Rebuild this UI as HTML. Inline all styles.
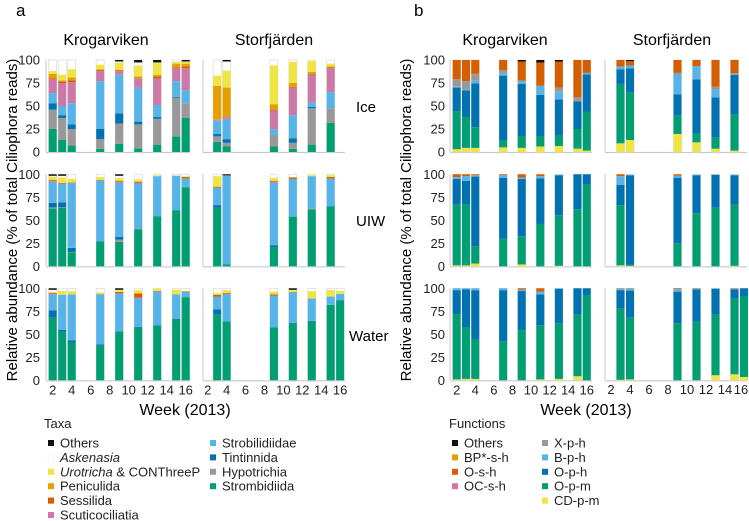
<!DOCTYPE html>
<html><head><meta charset="utf-8"><style>
html,body{margin:0;padding:0;background:#fff;}
svg{display:block;font-family:"Liberation Sans",Arial,sans-serif;}
</style></head><body>
<svg id="chart" width="749" height="521" viewBox="0 0 749 521" xmlns="http://www.w3.org/2000/svg">
<g id="static">
<text x="16" y="16" font-size="17">a</text>
<text x="414" y="16" font-size="17">b</text>
<text x="106" y="45" font-size="16" text-anchor="middle">Krogarviken</text>
<text x="274" y="45" font-size="16" text-anchor="middle">Storfjärden</text>
<text x="505" y="45" font-size="16" text-anchor="middle">Krogarviken</text>
<text x="672" y="45" font-size="16" text-anchor="middle">Storfjärden</text>
<text x="356" y="112" font-size="15">Ice</text>
<text x="356" y="226" font-size="15">UIW</text>
<text x="349" y="341" font-size="15">Water</text>
<text transform="translate(17,220) rotate(-90)" font-size="15" text-anchor="middle">Relative abundance (% of total Ciliophora reads)</text>
<text transform="translate(411,220) rotate(-90)" font-size="15" text-anchor="middle">Relative abundance (% of total Ciliophora reads)</text>
<text x="185" y="415" font-size="16" text-anchor="middle">Week (2013)</text>
<text x="586" y="415" font-size="16" text-anchor="middle">Week (2013)</text>
</g>
<g font-size="13" fill="#222" text-anchor="middle">
<text x="611" y="394">2</text>
<text x="630" y="394">4</text>
<text x="649" y="394">6</text>
<text x="668" y="394">8</text>
<text x="687" y="394">10</text>
<text x="706" y="394">12</text>
<text x="725" y="394">14</text>
<text x="741" y="394">16</text>
</g>
<g id="plots"></g>
<g id="xticks"></g>
<g id="legends"></g>
</svg>
<script>
const taxaNames = ["Strombidiida","Hypotrichia","Tintinnida","Strobilidiidae","Scuticociliatia","Sessilida","Peniculida","Urotricha & CONThreeP"];
const taxaColors = ["#009e73","#999999","#0072b2","#56b4e9","#cc79a7","#d55e00","#e69f00","#f0e442"];
const iceK = [[2,25,46,53,64,79,80,85,88,99,0],[3,13,37,40,50,75,76.5,78,84,99,0],[4,7,25,30,53,76,78,81,90,99,0],[7,3.5,14,25,77,88,89,90,95,99,0],[9,9,31,42,84,88,89,89,97,99,1],[11,4,30,33,70,80,80,82,94,98,2],[13,8,36,38,51,80,82,84,97,98,2],[15,17,59,60,77,91,92,96,98,99,0],[16,37,53,53,67,91,93,96,98,99,1]];
const iceS = [[3,11,17,19.5,34,35,35,72,83,99,0],[4,6,10,14,36,38,38,70,88.5,99,1],[9,6,18.5,18.5,24.6,45,46,52,94,99,0],[11,3.5,10,15,40,70,71,75,98,99,0],[13,8,47.5,49,54,84,85,87,99,100,0],[15,31.5,47.5,47.5,65,91,92,93,96,99,0]];
const uiwK = [[2,63,64,69,92,93,94,94,97.5,99,1],[3,63.5,64,69.5,89.5,90,90.5,90.5,96.5,99,1],[4,15,15.6,20,90.5,90.5,91,91,95,99,0],[7,27,27,27,93.5,93.5,94,94,97,99,0],[9,26.5,29,32,91,92,93,93,96,99,1],[11,40,41,41,90,91,92,92,94.5,99,0],[13,54.5,54.5,54.5,98,98,98,98,99,100,0],[15,61,61,61,98.5,98.5,98.5,98.5,98.5,100,0],[16,86,86,86,95.5,95.5,97,97,98,99,0]];
const uiwS = [[3,63.5,63.5,66.5,85.5,85.5,86.5,86.5,98,99,0],[4,2,2,2,98.5,98.5,99,99.5,99.5,99.5,0.5],[9,21,21,23,91,92,93,93,96,99,0],[11,54,54,54,95,95,96.5,96.5,97,99,0],[13,62,63,63,98,98,98,98,99,100,0],[15,65,65,65,95.5,95.5,97,97,99,100,0]];
const watK = [[2,68,68,76,93.5,94,95,95,96,99,1],[3,53,53,55,93,93,93,93,97,99,0],[4,41,41,43.6,93.5,93.5,93.5,93.5,97,99,0],[7,37.5,37.5,39,93.5,93.5,93.5,94,95.6,99,0],[9,53,53,53,94.5,94.5,96,96,98,99,1],[11,57.5,57.5,58,89,90,94.5,94.5,98,99,0],[13,59.6,59.6,59.6,96.4,96.4,97,97,99.6,100,0],[15,67,67,67,93.5,93.5,93.5,93.5,98.5,100,0],[16,90,90,90,96,96,96.5,96.5,97,99,0]];
const watS = [[3,71.6,71.6,77,91,91,93,93,95,99,0],[4,64,64,64,94,94,95,95,98,99,0],[9,57.5,57.5,57.5,92,92,93.5,93.5,96.5,99,0],[11,61.5,61.5,62.5,95.6,95.6,96,96,98,99,1],[13,63.6,63.6,64.6,89,89,89,89,97,99,0],[15,82,82,82,91,91,91,91,98,99,0],[16,85.5,85.5,87,94,94,94,94,97,99,0]];
const funcNames = ["CD-p-m","O-p-m","O-p-h","B-p-h","X-p-h","OC-s-h","O-s-h","BP*-s-h"];
const funcColors = ["#f0e442","#009e73","#0072b2","#56b4e9","#999999","#cc79a7","#d55e00","#e69f00"];
const fIceK = [[2,3,44.5,70,71,79,79,100,100,100,0],[3,4.5,38,67,68,77,77,100,100,100,0],[4,4.5,27,74.6,77.5,85,85,100,100,100,0],[7,5,13,83,85.5,89,89,100,100,100,0],[9,4.5,17.4,74,77.5,77.5,77.5,99,99,99,1],[11,6,17.4,62,72,72,72,98,98,98,2],[13,6.5,18,57,65.5,70,70,99,99,99,1],[15,3.6,25,55,55,59.4,59.4,100,100,100,0],[16,1.5,44,84.4,86,86,86,100,100,100,0]];
const fIceS = [[3,9.4,74,90,93,93,93,100,100,100,0],[4,13,64.5,91,94,94,94,99.5,99.5,99.5,0.5],[9,19.6,39.5,62.7,84.8,86,86,100,100,100,0],[11,10.5,20,79,93,93.5,93.5,100,100,100,0],[13,3.6,15.6,59.4,68,71,71,100,100,100,0],[15,1.5,40.6,83.7,84.5,85.5,85.5,100,100,100,0]];
const fUiwK = [[2,1,67,95,97,97,97,100,100,100,0],[3,1,67,93,98,98,98,100,100,100,0],[4,3,22,97.5,99,99,99,100,100,100,0],[7,0,30,96,99,99,99,100,100,100,0],[9,2,32.7,95,96.5,96.5,96.5,100,100,100,0],[11,0,46,95.6,98,98,98,100,100,100,0],[13,0.5,55.6,99,99.5,99.5,99.5,99.5,99.5,100,0],[15,0,62,100,100,100,100,100,100,100,0],[16,0,89,100,100,100,100,100,100,100,0]];
const fUiwS = [[3,1,66.5,88.4,98,98,98,100,100,100,0],[4,0.5,2,99,99.5,99.5,99.5,99.5,99.5,100,0],[9,0,25,96,98.5,98.5,98.5,100,100,100,0],[11,0,57.8,99,99.5,99.5,99.5,99.5,99.5,100,0],[13,0,63.6,99.5,99.5,99.5,99.5,99.5,99.5,100,0],[15,0.5,67,99,99.5,99.5,99.5,99.5,99.5,100,0]];
const fWatK = [[2,1,72,98,100,100,100,100,100,100,0],[3,1.5,57,99,100,100,100,100,100,100,0],[4,1.5,44.4,98,100,100,100,100,100,100,0],[7,0,42,98,100,100,100,100,100,100,0],[9,0,54.5,97,98.5,98.5,98.5,100,100,100,0],[11,1,60,93.5,96.4,96.4,96.4,100,100,100,0],[13,1.5,62,99.5,100,100,100,100,100,100,0],[15,4.4,71.6,100,100,100,100,100,100,100,0],[16,0,92.7,100,100,100,100,100,100,100,0]];
const fWatS = [[3,0.5,77.8,98,99.5,99.5,99.5,100,100,100,0],[4,1,68,97.5,99.5,99.5,99.5,100,100,100,0],[9,0,62,96.4,99,99,99,100,100,100,0],[11,0,63.6,99,99.5,99.5,99.5,100,100,100,0],[13,5.5,71.6,99.5,100,100,100,100,100,100,0],[15,6.5,89,99,99.5,99.5,99.5,100,100,100,0],[16,3.6,91,100,100,100,100,100,100,100,0]];
const yTicks = [0,25,50,75,100];
const xTicks = [2,4,6,8,10,12,14,16];

const NS = "http://www.w3.org/2000/svg";
const plots = document.getElementById('plots');
function mk(tag, attrs, parent){const e=document.createElementNS(NS,tag);for(const k in attrs)e.setAttribute(k,attrs[k]);parent.appendChild(e);return e;}
const rowTop = [60,174.3,288.3];
const H = 92;
function yScale(row, v){return rowTop[row] + H - v/100*H;}
const panels = [
 {x0:52.7,step:9.5,left:46,right:190,ax:true,tickX:40},
 {x0:207.7,step:9.46,left:203,right:345,ax:false},
 {x0:456.7,step:9.29,left:450,right:592,ax:true,tickX:445},
 {x0:611,step:9.5,left:605,right:747,ax:false}
];
function xScale(p,w){return p.x0+(w-2)*p.step;}
function drawPanel(pi,row,data,colors,name){
  const p=panels[pi];
  const g=mk('g',{},plots);
  
  
  const base=yScale(row,0);
  const ax=mk('line',{x1:p.left,x2:p.right,y1:base+0.5,y2:base+0.5,stroke:'#c8c8c8','stroke-width':1.2},g);
  
  
  const ay=mk('line',{x1:p.left,x2:p.left,y1:yScale(row,100),y2:base,stroke:'#c8c8c8','stroke-width':1},g);
  
  
  if(p.ax){
    yTicks.forEach(t=>{
      const tx=mk('text',{x:p.tickX,y:yScale(row,t)+4.5,'font-size':13,'text-anchor':'end',fill:'#222'},g);
      tx.textContent=t;
      
      
    });
  }
  const bw=8;
  data.forEach(s=>{
    const w=s[0];const cx=xScale(p,w);
    const bg=mk('g',{},g);
    
    
    mk('rect',{x:cx-bw/2,y:yScale(row,100),width:bw,height:H,fill:'#fff',stroke:'#dcdcdc','stroke-width':0.8},bg);
    let prev=0;
    for(let i=0;i<8;i++){
      const top=s[i+1];
      if(top>prev){
        const r=mk('rect',{x:cx-bw/2,y:yScale(row,top),width:bw,height:yScale(row,prev)-yScale(row,top),fill:colors[i]},bg);
        
        
      }
      prev=Math.max(prev,top);
    }
    const oth=s[10];
    if(oth>0){
      const r=mk('rect',{x:cx-bw/2,y:yScale(row,100),width:bw,height:oth/100*H+0.6,fill:'#111'},bg);
      
      
    }
  });
}
drawPanel(0,0,iceK,taxaColors,'taxa-ice-krogarviken');
drawPanel(1,0,iceS,taxaColors,'taxa-ice-storfjarden');
drawPanel(0,1,uiwK,taxaColors,'taxa-uiw-krogarviken');
drawPanel(1,1,uiwS,taxaColors,'taxa-uiw-storfjarden');
drawPanel(0,2,watK,taxaColors,'taxa-water-krogarviken');
drawPanel(1,2,watS,taxaColors,'taxa-water-storfjarden');
drawPanel(2,0,fIceK,funcColors,'func-ice-krogarviken');
drawPanel(3,0,fIceS,funcColors,'func-ice-storfjarden');
drawPanel(2,1,fUiwK,funcColors,'func-uiw-krogarviken');
drawPanel(3,1,fUiwS,funcColors,'func-uiw-storfjarden');
drawPanel(2,2,fWatK,funcColors,'func-water-krogarviken');
drawPanel(3,2,fWatS,funcColors,'func-water-storfjarden');

const xtg=document.getElementById('xticks');


const tickBase=yScale(2,0)+14;
for(let pi=0;pi<3;pi++){
  const p=panels[pi];
  for(let k=0;k<xTicks.length;k++){
    const t=xTicks[k];
    const tx=mk('text',{x:xScale(p,t),y:tickBase,'font-size':13,'text-anchor':'middle',fill:'#222'},xtg);
    tx.textContent=String(t);
    
    
  }
}

const leg=document.getElementById('legends');
const taxaLegend=[["Others","#111",0],["Askenasia","#fff",0],["Urotricha & CONThreeP","#f0e442",0],["Peniculida","#e69f00",0],["Sessilida","#d55e00",0],["Scuticociliatia","#cc79a7",0],["Strobilidiidae","#56b4e9",1],["Tintinnida","#0072b2",1],["Hypotrichia","#999999",1],["Strombidiida","#009e73",1]];
const funcLegend=[["Others","#111",0],["BP*-s-h","#e69f00",0],["O-s-h","#d55e00",0],["OC-s-h","#cc79a7",0],["X-p-h","#999999",1],["B-p-h","#56b4e9",1],["O-p-h","#0072b2",1],["O-p-m","#009e73",1],["CD-p-m","#f0e442",1]];
function drawLegend(title,tx,items,colX,name){
  const g=mk('g',{},leg);
  
  
  const t=mk('text',{x:tx,y:428,'font-size':13,fill:'#222'},g);t.textContent=title;
  
  
  const cnt=[0,0];
  items.forEach(it=>{
    const c=it[2];const y=443+cnt[c]*14.4;cnt[c]++;
    const e=mk('g',{},g);
    
    
    mk('rect',{x:colX[c],y:y-3,width:6,height:6,fill:it[1],stroke:it[1]==='#fff'?'#eee':'none','stroke-width':0.5},e);
    const tt=mk('text',{x:colX[c]+12,y:y+4.5,'font-size':13,fill:'#222'},e);
    if(it[0]==='Askenasia'){tt.setAttribute('font-style','italic');tt.textContent='Askenasia';}
    else if(it[0].startsWith('Urotricha')){const ts=mk('tspan',{'font-style':'italic'},tt);ts.textContent='Urotricha';const t2=mk('tspan',{},tt);t2.textContent=' & CONThreeP';}
    else tt.textContent=it[0];
  });
}
drawLegend('Taxa',44,taxaLegend,[48,210],'taxa-legend');
drawLegend('Functions',449,funcLegend,[452,542],'functions-legend');
</script>
</body></html>
